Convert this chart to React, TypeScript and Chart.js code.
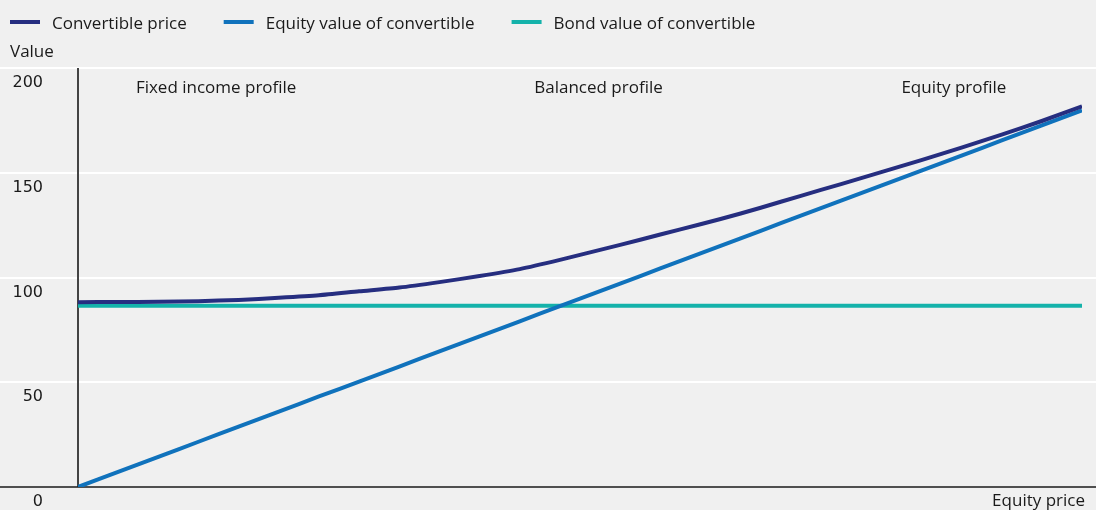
import React, { useEffect, useRef } from "react";
import { Chart, registerables } from "chart.js";

Chart.register(...registerables);

// ---- Data ----
const equityPrice = [0, 1, 2, 3, 4, 5, 6, 7, 8, 9, 10, 11, 12, 13, 14, 15, 16, 17, 18, 19, 20, 21, 22, 23, 24, 25];
const convertiblePrice = [
  88.2, 88.3, 88.4, 88.7, 89.3, 90.3, 91.5, 93.4, 95.2, 97.8, 100.7, 104.0, 108.4,
  113.2, 118.0, 123.0, 127.9, 133.3, 139.0, 144.6, 150.3, 156.0, 162.0, 168.2, 174.7, 181.7,
];
const equityValue = [
  0, 7.2, 14.4, 21.6, 28.8, 36.0, 43.2, 50.3, 57.5, 64.7, 71.9, 79.1, 86.3,
  93.5, 100.7, 107.9, 115.1, 122.3, 129.5, 136.7, 143.8, 151.0, 158.2, 165.4, 172.6, 179.8,
];
const bondValue = [
  86.5, 86.5, 86.5, 86.5, 86.5, 86.5, 86.5, 86.5, 86.5, 86.5, 86.5, 86.5, 86.5,
  86.5, 86.5, 86.5, 86.5, 86.5, 86.5, 86.5, 86.5, 86.5, 86.5, 86.5, 86.5, 86.5,
];
const seriesNames = ["Convertible price", "Equity value of convertible", "Bond value of convertible"];
const seriesColors = ["#262e80", "#1072bc", "#14b2aa"];
const yTicks = [0, 50, 100, 150, 200];
const profileLabels = ["Fixed income profile", "Balanced profile", "Equity profile"];
const profileAt = [3.44, 12.96, 21.81];
const yTitle = "Value";
const xTitle = "Equity price";

const FONT = '"Open Sans", sans-serif';
const TICK_FONT = '"DejaVu Sans", sans-serif';
const FONT_SIZE = 17;
const TEXT = "#1a1a1a";
const BG = "#f0f0f0";

const toPts = (ys: number[]) => equityPrice.map((x, i) => ({ x, y: ys[i] }));

const decorPlugin = {
  id: "decor",
  beforeDraw(chart: any) {
    const { ctx, width, height, scales } = chart;
    ctx.save();
    ctx.fillStyle = BG;
    ctx.fillRect(0, 0, width, height);
    const y = scales.y;
    ctx.strokeStyle = "#ffffff";
    ctx.lineWidth = 2;
    yTicks.forEach((t) => {
      if (t === 0) return;
      const py = Math.round(y.getPixelForValue(t));
      ctx.beginPath();
      ctx.moveTo(0, py);
      ctx.lineTo(width, py);
      ctx.stroke();
    });
    ctx.restore();
  },
  beforeDatasetsDraw(chart: any) {
    const { ctx, width, chartArea, scales } = chart;
    ctx.save();
    ctx.strokeStyle = "#444444";
    ctx.lineWidth = 2;
    ctx.beginPath();
    ctx.moveTo(chartArea.left, scales.y.getPixelForValue(200));
    ctx.lineTo(chartArea.left, scales.y.getPixelForValue(0));
    ctx.stroke();
    const by = scales.y.getPixelForValue(0);
    ctx.strokeStyle = "#1a1a1a";
    ctx.lineWidth = 1.5;
    ctx.beginPath();
    ctx.moveTo(0, by);
    ctx.lineTo(width, by);
    ctx.stroke();
    ctx.restore();
  },
  afterDraw(chart: any) {
    const { ctx, width, scales } = chart;
    ctx.save();
    ctx.font = `${FONT_SIZE}px ${FONT}`;
    ctx.fillStyle = TEXT;
    ctx.textBaseline = "alphabetic";
    // legend
    let lx = 10;
    seriesNames.forEach((name, i) => {
      ctx.strokeStyle = seriesColors[i];
      ctx.lineWidth = 4;
      ctx.beginPath();
      ctx.moveTo(lx, 22);
      ctx.lineTo(lx + 30, 22);
      ctx.stroke();
      ctx.textAlign = "left";
      ctx.fillText(name, lx + 42, 29);
      lx += 42 + ctx.measureText(name).width + 37;
    });
    // y title
    ctx.textAlign = "left";
    ctx.fillText(yTitle, 10, 56.5);
    // profile labels
    ctx.textAlign = "center";
    profileLabels.forEach((lab, i) => {
      ctx.fillText(lab, scales.x.getPixelForValue(profileAt[i]), 92.5);
    });
    // x title
    ctx.textAlign = "right";
    ctx.fillText(xTitle, width - 11, 505.5);
    ctx.restore();
  },
};

export default function App() {
  const ref = useRef<HTMLCanvasElement | null>(null);
  useEffect(() => {
    document.body.style.margin = "0";
    document.body.style.background = BG;
    const canvas = ref.current;
    if (!canvas) return;
    const datasets = [convertiblePrice, equityValue, bondValue].map((ys, i) => ({
      label: seriesNames[i],
      data: toPts(ys),
      borderColor: seriesColors[i],
      backgroundColor: seriesColors[i],
      borderWidth: 4,
      pointRadius: 0,
      tension: 0.2,
      fill: false,
    }));
    const chart = new Chart(canvas, {
      type: "line",
      data: { datasets },
      options: {
        animation: false,
        responsive: false,
        devicePixelRatio: 1,
        layout: { padding: { top: 68, bottom: 23, left: 0, right: 14 } },
        plugins: { legend: { display: false }, tooltip: { enabled: false } },
        scales: {
          x: { type: "linear", min: 0, max: 25, display: false },
          y: {
            type: "linear",
            min: 0,
            max: 200,
            afterFit: (s: any) => {
              s.width = 78;
              s.paddingTop = 0;
              s.paddingBottom = 0;
            },
            afterBuildTicks: (s: any) => {
              s.ticks = yTicks.map((v) => ({ value: v }));
            },
            ticks: {
              color: TEXT,
              font: { family: TICK_FONT, size: 16 },
              padding: 35,
              labelOffset: 15,
            },
            grid: { display: false, drawTicks: false },
            border: { display: false },
          },
        },
      },
      plugins: [decorPlugin],
    } as any);
    return () => chart.destroy();
  }, []);
  return (
    <div style={{ width: 1096, height: 510 }}>
      <canvas ref={ref} width={1096} height={510} style={{ display: "block" }} />
    </div>
  );
}
